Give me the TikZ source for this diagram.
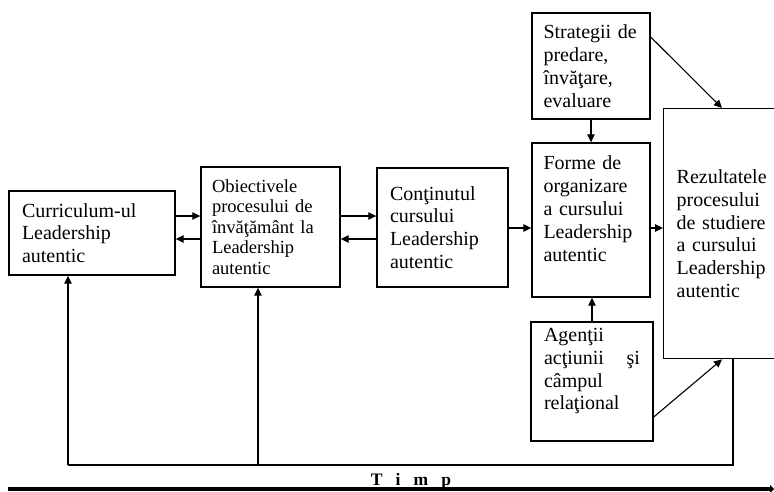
\documentclass[tikz,border=0pt]{standalone}
\usepackage{fontspec}
\setmainfont{Liberation Serif}
\usetikzlibrary{arrows.meta}
\begin{document}
\begin{tikzpicture}[x=1pt,y=-1pt,
  box/.style={draw, line width=1.4pt, rectangle, align=left, inner xsep=13pt, inner ysep=0pt,
    font=\fontsize{20}{22.8}\selectfont},
  arr/.style={line width=1.1pt, -{Triangle[length=8pt,width=7.5pt]}},
  ln/.style={line width=1.1pt}]
\useasboundingbox (0,0) rectangle (774,491);
\node[box, text width=140pt, minimum height=84pt] (cur) at (92,233) {Curriculum-ul\\ Leadership\\ autentic};
\node[box, text width=117pt, minimum height=120pt, inner xsep=11pt,
  font=\fontsize{18.5}{20.6}\selectfont] (obi) at (270.5,227) {Obiectivele\\ procesului de\\ învăţământ la\\ Leadership\\ autentic};
\node[box, text width=105pt, minimum height=119pt, inner xsep=13pt] (con) at (442.5,227.5) {Conţinutul\\ cursului\\ Leadership\\ autentic};
\node[box, text width=95pt, minimum height=154pt, inner xsep=11.5pt] (for) at (591,220) {Forme de\\ organizare\\ a cursului\\ Leadership\\ autentic\\ \mbox{}};
\node[box, text width=95pt, minimum height=106pt, inner xsep=11.5pt] (str) at (591,66) {Strategii de\\ predare,\\ învăţare,\\ evaluare};
\node[box, text width=96pt, minimum height=119pt] (age) at (592,381.5) {Agenţii\\ acţiunii\hfill şi\\ câmpul\\ relaţional\\[2pt]\mbox{}};
\node[box, text width=200pt, minimum height=250pt, anchor=north west] (rez) at (663,108) {Rezultatele\\ procesului\\ de studiere\\ a cursului\\ Leadership\\ autentic};
% horizontal links
\draw[arr] (cur.east |- 0,216) -- (obi.west |- 0,216);
\draw[arr] (obi.west |- 0,239) -- (cur.east |- 0,239);
\draw[arr] (obi.east |- 0,216) -- (con.west |- 0,216);
\draw[arr] (con.west |- 0,239) -- (obi.east |- 0,239);
\draw[arr] (con.east |- 0,228) -- (for.west |- 0,228);
\draw[arr] (for.east |- 0,228) -- (rez.west |- 0,228);
% vertical links
\draw[arr] (str.south) -- (for.north);
\draw[arr] (age.north) -- (age.north |- for.south);
\draw[arr] (str.east |- 0,37) -- (rez.north -| 722,0);
\draw[arr] (age.east |- 0,417) -- (rez.south -| 722,0);
% feedback
\coordinate (fr) at (733,465);
\coordinate (fm) at (258,465);
\coordinate (fl) at (68,465);
\draw[ln] (rez.south -| fr) -- (fr) -- (fl);
\draw[arr] (fl) -- (cur.south -| fl);
\draw[arr] (fm) -- (obi.south -| fm);
% time axis
\coordinate (t0) at (8,489);
\coordinate (t1) at (774,489);
\draw[line width=4pt, -{Triangle[length=4pt,width=8pt]}] (t0) -- (t1);
\node[font=\bfseries\fontsize{17.5}{17.5}\selectfont, anchor=base, inner sep=0pt] (timp) at (411,485.5) {T\,\,\, i\,\,\, m\,\,\, p};
\end{tikzpicture}
\end{document}
